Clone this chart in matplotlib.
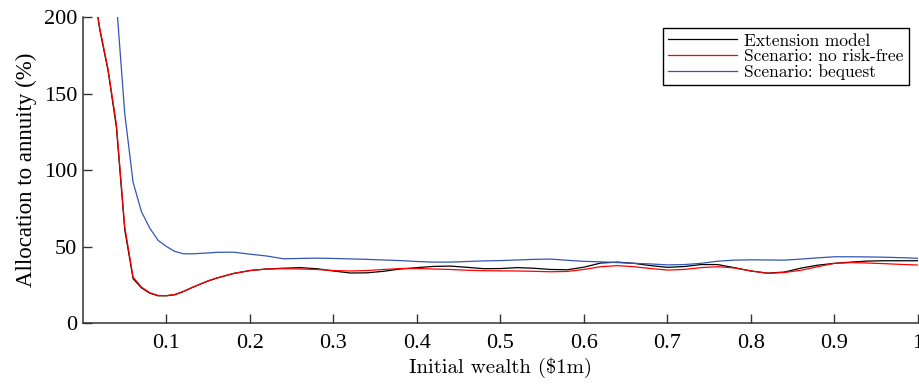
import numpy as np
import matplotlib
matplotlib.use("Agg")
import matplotlib.pyplot as plt

# Allocation to annuity vs initial wealth, three model variants
wealth_fine = [0.01, 0.02, 0.03, 0.04, 0.05, 0.06, 0.07, 0.08, 0.09, 0.10,
               0.11, 0.12, 0.13, 0.14, 0.15]
wealth_coarse = [0.16, 0.18, 0.20, 0.22, 0.24, 0.26, 0.28, 0.30, 0.32, 0.34,
                 0.36, 0.38, 0.40, 0.42, 0.44, 0.46, 0.48, 0.50, 0.52, 0.54,
                 0.56, 0.58, 0.60, 0.62, 0.64, 0.66, 0.68, 0.70, 0.72, 0.74,
                 0.76, 0.78, 0.80, 0.82, 0.84, 0.86, 0.88, 0.90, 0.92, 0.94,
                 0.96, 0.98, 1.00]
wealth = wealth_fine + wealth_coarse

extension_model = [228, 192, 165, 128, 61, 29, 23, 19.5, 17.8, 17.8,
                   18.5, 20.5, 23, 25.3, 27.5,
                   29.3, 32.3, 34.3, 35.3, 35.8, 36.2, 35.5, 34.0, 32.7, 32.8,
                   33.8, 35.3, 36.2, 37.0, 37.2, 36.4, 35.5, 35.6, 36.2, 35.8,
                   35.0, 34.8, 36.5, 39.2, 39.8, 39.0, 37.5, 36.4, 36.9, 38.2,
                   38.2, 36.2, 34.0, 32.6, 33.3, 35.9, 37.8, 39.0, 39.8, 40.5,
                   40.7, 40.7, 40.7]

no_risk_free = [228, 193, 166, 130, 63, 30, 23.5, 19.8, 18.0, 17.9,
                18.6, 20.6, 23.1, 25.4, 27.6,
                29.4, 32.4, 34.3, 35.3, 35.5, 35.3, 35.0, 34.3, 34.0, 34.3,
                35.0, 35.6, 35.6, 35.3, 35.0, 34.5, 34.2, 34.1, 34.0, 33.8,
                33.5, 33.7, 35.0, 36.8, 37.5, 36.8, 35.6, 34.6, 35.0, 36.2,
                36.8, 36.0, 34.0, 32.5, 33.0, 34.5, 36.8, 39.0, 39.5, 39.2,
                38.8, 38.3, 37.9]

bequest = [None, None, 290, 210, 137, 92, 72.8, 62, 54, 50,
           46.8, 45.3, 45.2, 45.5, 45.8,
           46.2, 46.3, 45.0, 43.8, 42.0, 42.2, 42.4, 42.2, 41.9, 41.6,
           41.2, 40.8, 40.2, 39.8, 39.8, 40.2, 40.6, 40.8, 41.2, 41.6,
           41.8, 41.0, 40.3, 40.0, 39.5, 39.0, 38.6, 38.0, 38.2, 39.0,
           40.4, 41.1, 41.3, 41.2, 41.1, 41.8, 42.6, 43.3, 43.3, 43.2,
           43.0, 42.7, 42.3]

x_ticks = [0.1, 0.2, 0.3, 0.4, 0.5, 0.6, 0.7, 0.8, 0.9, 1]
y_ticks = [0, 50, 100, 150, 200]

bequest = np.array([np.nan if v is None else v for v in bequest], dtype=float)

serif = "Liberation Serif"
cm = "cmr10"

fig = plt.figure(figsize=(9.2, 3.85), dpi=100)
ax = fig.add_axes([0.0902, 0.161, 0.9076, 0.7948])

ax.plot(wealth, extension_model, color="black", linewidth=0.9, label="Extension model")
ax.plot(wealth, no_risk_free, color="#ff0000", linewidth=0.9, label="Scenario: no risk-free")
ax.plot(wealth, bequest, color="#3355b5", linewidth=0.9, label="Scenario: bequest")

ax.set_xlim(0, 1)
ax.set_ylim(0, 200)
ax.set_xticks(x_ticks)
ax.set_xticklabels(["%g" % t for t in x_ticks])
ax.set_yticks(y_ticks)

for side in ["top", "right"]:
    ax.spines[side].set_visible(False)
for side in ["left", "bottom"]:
    ax.spines[side].set_linewidth(1.1)
    ax.spines[side].set_color("#333333")

ax.tick_params(direction="in", length=6.5, width=1.0, color="#333333")
ax.tick_params(axis="x", pad=8)
ax.tick_params(axis="y", pad=4)
for lbl in ax.get_xticklabels() + ax.get_yticklabels():
    lbl.set_fontfamily(serif)
    lbl.set_fontsize(16)

ax.set_xlabel("Initial wealth (\\$1m)", fontfamily=cm, fontsize=15, labelpad=3)
ax.set_ylabel("Allocation to annuity (%)", fontfamily=serif, fontsize=16.5, labelpad=5)

leg = ax.legend(loc="upper right", bbox_to_anchor=(0.989, 0.964), borderaxespad=0,
                fancybox=False, framealpha=1, edgecolor="black", handlelength=4.0,
                handletextpad=0.4, borderpad=0.3, labelspacing=0.0,
                prop={"family": cm, "size": 12.5})
leg.get_frame().set_linewidth(1.0)

fig.savefig("out.png", dpi=100)
